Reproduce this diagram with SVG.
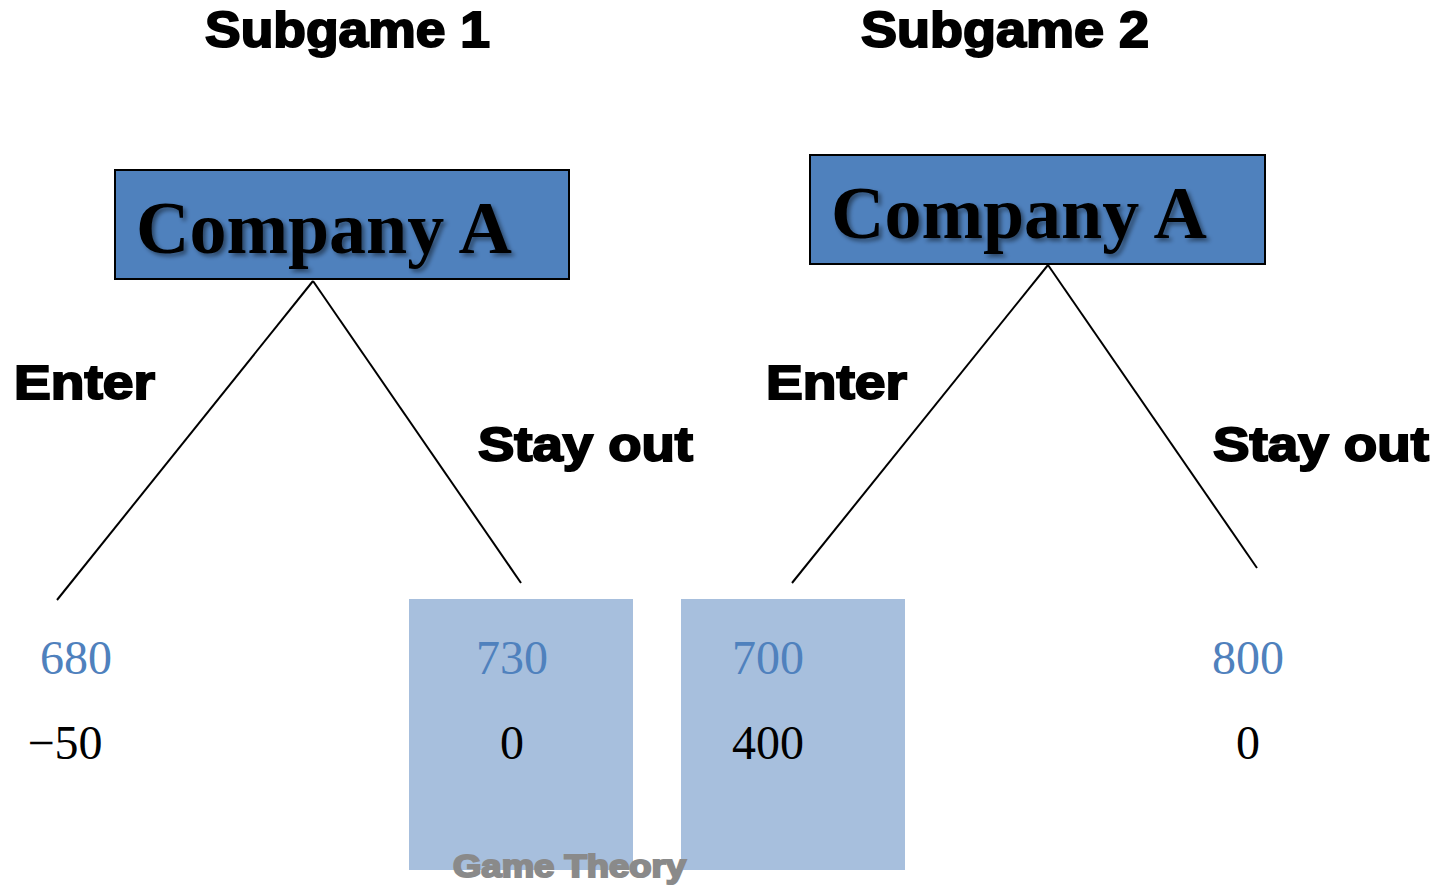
<svg xmlns="http://www.w3.org/2000/svg" width="1450" height="885" viewBox="0 0 1450 885">
  <defs>
    <filter id="shadow" x="-10%" y="-20%" width="120%" height="140%">
      <feDropShadow dx="3" dy="3" stdDeviation="2" flood-color="#000" flood-opacity="0.45"/>
    </filter>
  </defs>
  <style>
    .title { font-family: "Liberation Sans", Arial, sans-serif; font-weight: bold; font-size: 50px; fill: #000; stroke: #000; stroke-width: 2px; }
    .branch { font-family: "Liberation Sans", Arial, sans-serif; font-weight: bold; font-size: 48px; fill: #000; stroke: #000; stroke-width: 2px; }
    .node rect { fill: #4F81BD; stroke: #000; stroke-width: 2; }
    .node text { font-family: "Liberation Serif", "Times New Roman", serif; font-weight: bold; font-size: 73px; fill: #000; filter: url(#shadow); }
    .payoff { fill: #A7BFDD; }
    .pa { font-family: "Liberation Serif", "Times New Roman", serif; font-size: 48px; fill: #4F81BD; text-anchor: middle; }
    .pb { font-family: "Liberation Serif", "Times New Roman", serif; font-size: 48px; fill: #000; text-anchor: middle; }
    .edges line { stroke: #000; stroke-width: 2; }
    .mark { font-family: "Liberation Sans", Arial, sans-serif; font-weight: bold; font-size: 31px; fill: #8A8A8A; stroke: #8A8A8A; stroke-width: 2px; }
  </style>

  <rect width="1450" height="885" fill="#fff"/>

  <!-- headings -->
  <text class="title" x="205" y="47" textLength="285" lengthAdjust="spacingAndGlyphs">Subgame 1</text>
  <text class="title" x="861" y="47" textLength="288" lengthAdjust="spacingAndGlyphs">Subgame 2</text>

  <!-- highlighted payoff columns -->
  <rect class="payoff" x="409" y="599" width="224" height="271"/>
  <rect class="payoff" x="681" y="599" width="224" height="271"/>

  <!-- branches -->
  <g id="connectors" class="edges">
    <line x1="313" y1="281" x2="57" y2="600"/>
    <line x1="313" y1="281" x2="521" y2="583"/>
    <line x1="1048" y1="265" x2="792" y2="583"/>
    <line x1="1048" y1="265" x2="1257" y2="568"/>
  </g>

  <!-- decision nodes -->
  <g id="node-sub1" class="node">
    <rect x="115" y="170" width="454" height="109"/>
    <text x="136" y="253" textLength="376" lengthAdjust="spacingAndGlyphs">Company A</text>
  </g>
  <g id="node-sub2" class="node">
    <rect x="810" y="155" width="455" height="109"/>
    <text x="831" y="238" textLength="376" lengthAdjust="spacingAndGlyphs">Company A</text>
  </g>

  <!-- branch labels -->
  <text class="branch" x="14" y="399" textLength="141" lengthAdjust="spacingAndGlyphs">Enter</text>
  <text class="branch" x="478" y="461" textLength="215" lengthAdjust="spacingAndGlyphs">Stay out</text>
  <text class="branch" x="766" y="399" textLength="141" lengthAdjust="spacingAndGlyphs">Enter</text>
  <text class="branch" x="1213" y="461" textLength="216" lengthAdjust="spacingAndGlyphs">Stay out</text>

  <!-- payoffs -->
  <g id="payoff-sub1-enter">
    <text class="pa" x="76" y="674">680</text>
    <text class="pb" x="65" y="759">−50</text>
  </g>
  <g id="payoff-sub1-stay">
    <text class="pa" x="512" y="674">730</text>
    <text class="pb" x="512" y="759">0</text>
  </g>
  <g id="payoff-sub2-enter">
    <text class="pa" x="768" y="674">700</text>
    <text class="pb" x="768" y="759">400</text>
  </g>
  <g id="payoff-sub2-stay">
    <text class="pa" x="1248" y="674">800</text>
    <text class="pb" x="1248" y="759">0</text>
  </g>

  <text class="mark" x="453" y="877" textLength="233" lengthAdjust="spacingAndGlyphs">Game Theory</text>
</svg>
